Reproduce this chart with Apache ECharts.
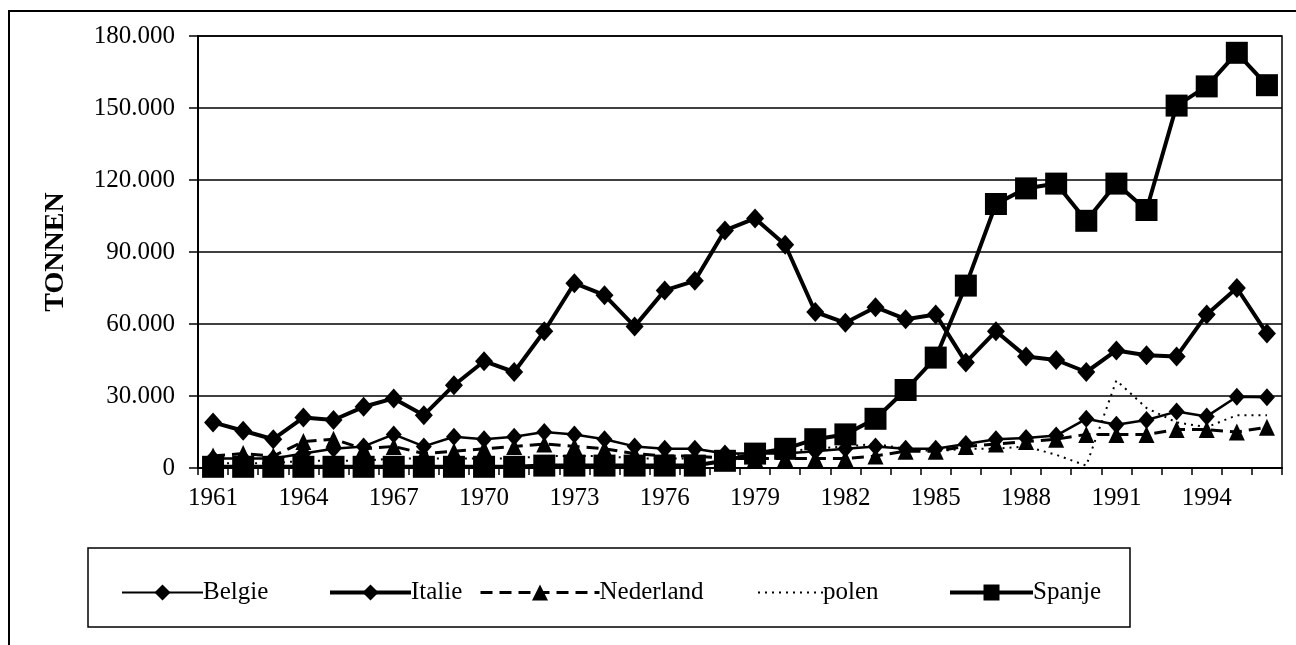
<!DOCTYPE html>
<html>
<head>
<meta charset="utf-8">
<script src="https://cdn.jsdelivr.net/npm/echarts@6/dist/echarts.min.js"></script>
<style>
  html, body { margin: 0; padding: 0; background: #fff; }
  #chart { width: 1296px; height: 645px; }
</style>
</head>
<body>
<div id="chart"></div>
<script>
// jaren 1961 - 1996
const years = ['1961', '1962', '1963', '1964', '1965', '1966', '1967', '1968', '1969', '1970',
  '1971', '1972', '1973', '1974', '1975', '1976', '1977', '1978', '1979', '1980',
  '1981', '1982', '1983', '1984', '1985', '1986', '1987', '1988', '1989', '1990',
  '1991', '1992', '1993', '1994', '1995', '1996'];

// waarden in duizend tonnen
const belgie = [4, 4, 4, 6, 8, 9, 14, 9, 13, 12, 13, 15, 14, 12, 9, 8, 8, 6, 6, 6,
  7, 8, 9, 8, 8, 10, 12, 12.5, 13.5, 20.5, 18, 20, 23.5, 21.5, 29.7, 29.5];
const italie = [19, 15.5, 12, 21, 20, 25.5, 29, 22, 34.5, 44.5, 40, 57, 77, 72, 59, 74, 78, 99, 104, 93,
  65, 60.5, 67, 62, 64, 44, 57, 46.5, 45, 40, 49, 47, 46.5, 64, 75, 56];
const nederland = [5, 6, 5, 11, 12, 8, 9, 6, 7, 8, 9, 10, 9, 8, 6, 5, 5, 4, 4, 4,
  4, 4, 5, 7, 7, 9, 10, 11, 12, 14, 14, 14, 16, 16, 15, 17];
const polen = [2, 2, 2, 3, 3, 3, 4, 4, 4, 4, 4, 5, 5, 5, 4, 4, 4, 5, 6, 7,
  8, 9, 10, 8, 7, 8, 8, 9, 5.5, 1, 36.5, 25, 19, 17, 22, 22];
const spanje = [0.5, 0.5, 0.5, 0.5, 0.5, 0.5, 0.5, 0.5, 0.5, 0.5, 0.5, 1, 1, 1, 1, 1, 1, 3, 6, 8,
  12, 14, 20.5, 32.5, 46, 76, 110, 116.5, 118.5, 103, 118.5, 107.5, 151, 159, 173, 159.5];

const FONT = '"Liberation Serif", "Times New Roman", serif';

const chart = echarts.init(document.getElementById('chart'));

// een legenda per reeks, zodat elk item op zijn plek staat
function legendItem(name, left, width, lineWidth, hideSymbol) {
  return {
    data: [name],
    left: left,
    top: 575,
    itemWidth: width,
    itemHeight: 20,
    itemGap: 0,
    selectedMode: false,
    lineStyle: { width: lineWidth },
    itemStyle: hideSymbol ? { opacity: 0 } : {},
    textStyle: { fontFamily: FONT, fontSize: 25, color: '#000', padding: [0, 0, 0, -5] },
  };
}

const option = {
  backgroundColor: '#fff',
  animation: false,
  grid: {
    left: 198,
    right: 14,
    top: 36,
    bottom: 177,
    show: true,
    borderColor: '#000',
    borderWidth: 1.5,
  },
  legend: [
    legendItem('Belgie', 116, 81, 2, false),
    legendItem('Italie', 323, 81, 4, false),
    legendItem('Nederland', 474, 119, 3, false),
    legendItem('polen', 752, 65, 2, true),
    legendItem('Spanje', 943, 83, 4, false),
  ],
  xAxis: {
    type: 'category',
    data: years,
    boundaryGap: true,
    axisLine: { show: true, lineStyle: { color: '#000', width: 2 } },
    axisTick: { show: true, interval: 0, length: 7, lineStyle: { color: '#000', width: 1.5 } },
    axisLabel: { interval: 2, margin: 18, color: '#000', fontFamily: FONT, fontSize: 25 },
    splitLine: { show: false },
  },
  yAxis: {
    type: 'value',
    min: 0,
    max: 180,
    interval: 30,
    name: 'TONNEN',
    nameLocation: 'middle',
    nameRotate: 90,
    nameGap: 128,
    nameTextStyle: { fontFamily: FONT, fontSize: 28, fontWeight: 'bold', color: '#000' },
    axisLine: { show: true, lineStyle: { color: '#000', width: 2 } },
    axisTick: { show: true, length: 9, lineStyle: { color: '#000', width: 1.5 } },
    axisLabel: {
      margin: 23,
      color: '#000',
      fontFamily: FONT,
      fontSize: 25,
      formatter: v => (v === 0 ? '0' : v + '.000'),
    },
    splitLine: { show: true, lineStyle: { color: '#000', width: 1.5 } },
  },
  series: [
    {
      name: 'Belgie', type: 'line', data: belgie,
      symbol: 'diamond', symbolSize: [16, 18], showAllSymbol: true,
      lineStyle: { color: '#000', width: 2.5 },
      itemStyle: { color: '#000' },
    },
    {
      name: 'Italie', type: 'line', data: italie,
      symbol: 'diamond', symbolSize: [18, 20], showAllSymbol: true,
      lineStyle: { color: '#000', width: 4 },
      itemStyle: { color: '#000' },
    },
    {
      name: 'Nederland', type: 'line', data: nederland,
      symbol: 'triangle', symbolSize: [16, 17], showAllSymbol: true,
      lineStyle: { color: '#000', width: 3, type: [12, 7] },
      itemStyle: { color: '#000' },
    },
    {
      name: 'polen', type: 'line', data: polen,
      symbol: 'none',
      lineStyle: { color: '#000', width: 2, type: [2, 5] },
      itemStyle: { color: '#000' },
    },
    {
      name: 'Spanje', type: 'line', data: spanje,
      symbol: 'rect', symbolSize: 22, showAllSymbol: true,
      lineStyle: { color: '#000', width: 4 },
      itemStyle: { color: '#000' },
    },
  ],
  graphic: [
    {
      // kader om de hele figuur
      type: 'rect', silent: true, z: -1,
      shape: { x: 9, y: 11, width: 1300, height: 700 },
      style: { fill: 'none', stroke: '#000', lineWidth: 2 },
    },
    {
      // kader om de legenda
      type: 'rect', silent: true, z: -1,
      shape: { x: 88, y: 548, width: 1042, height: 79 },
      style: { fill: 'none', stroke: '#000', lineWidth: 1.5 },
    },
  ],
};

chart.setOption(option);
</script>
</body>
</html>
